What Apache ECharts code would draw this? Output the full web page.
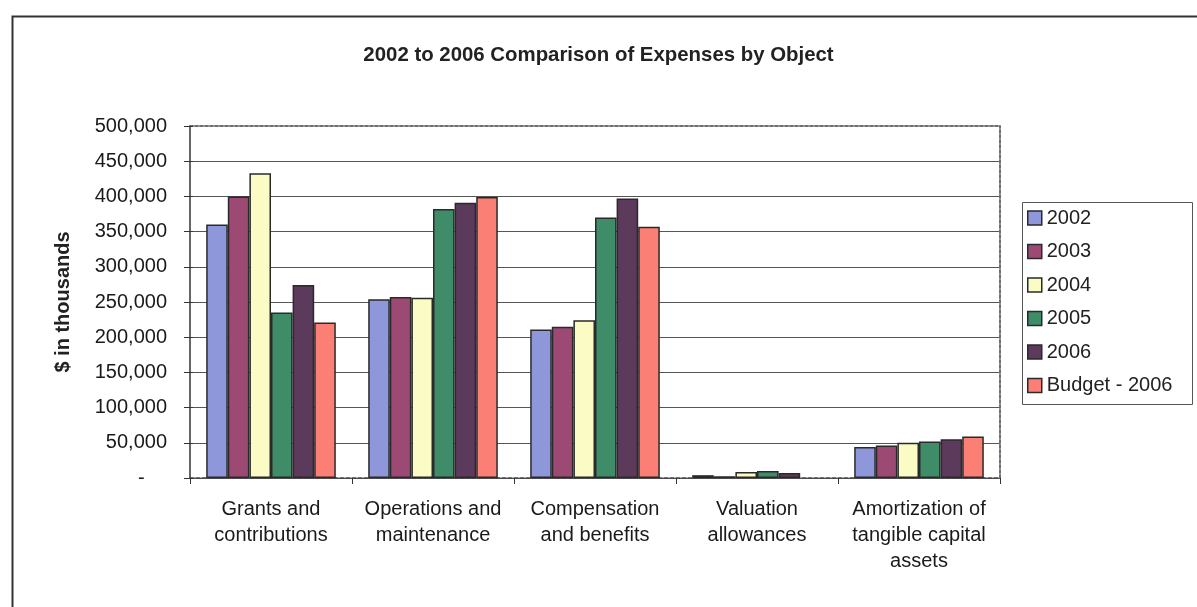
<!DOCTYPE html>
<html>
<head>
<meta charset="utf-8">
<title>2002 to 2006 Comparison of Expenses by Object</title>
<script src="https://cdn.jsdelivr.net/npm/echarts@6/dist/echarts.min.js"></script>
<style>
  html, body { margin: 0; padding: 0; background: #ffffff; }
  #chart { width: 1197px; height: 607px; }
</style>
</head>
<body>
<div id="chart"></div>
<script>
// Expense categories (two/three-line labels as printed under the axis)
const categories = [
  'Grants and\ncontributions',
  'Operations and\nmaintenance',
  'Compensation\nand benefits',
  'Valuation\nallowances',
  'Amortization of\ntangible capital\nassets'
];

// $ in thousands, one array per year / budget (null = no bar)
const y2002 = [360000, 254000, 211000, 4000, 44000];
const y2003 = [400000, 257000, 215000, 2500, 46000];
const y2004 = [433000, 256000, 224000, 8500, 50000];
const y2005 = [235000, 382000, 370000, 10000, 52000];
const y2006 = [274000, 391000, 397000, 7000, 55000];
const budget2006 = [221000, 399000, 357000, null, 59000];

const seriesNames = ['2002', '2003', '2004', '2005', '2006', 'Budget - 2006'];
const seriesData = [y2002, y2003, y2004, y2005, y2006, budget2006];
const seriesColors = ['#8f97db', '#9c4a74', '#fbfbc6', '#3f8d68', '#5b3a5b', '#fb7f74'];

const FONT = 'Arial, "Liberation Sans", sans-serif';

function fmtThousands(v) {
  if (v === 0) return '-    ';
  return String(v).replace(/\B(?=(\d{3})+(?!\d))/g, ',');
}

const chart = echarts.init(document.getElementById('chart'), null, { renderer: 'canvas' });

chart.setOption({
  animation: false,
  backgroundColor: '#ffffff',
  textStyle: { fontFamily: FONT },
  title: {
    text: '2002 to 2006 Comparison of Expenses by Object',
    left: 'center',
    top: 45,
    padding: 0,
    textStyle: { fontFamily: FONT, fontSize: 20.4, fontWeight: 'bold', color: '#222' }
  },
  legend: {
    orient: 'vertical',
    left: 1027,
    top: 208,
    padding: 0,
    itemWidth: 14,
    itemHeight: 14,
    itemGap: 13.5,
    icon: 'rect',
    data: seriesNames,
    itemStyle: { borderColor: '#2a2a2a', borderWidth: 1.5 },
    textStyle: { fontFamily: FONT, fontSize: 20, color: '#222', lineHeight: 20, padding: [0, 0, 0, 0] }
  },
  grid: { left: 190, right: 197, top: 126, bottom: 129, containLabel: false },
  xAxis: [
    {
      type: 'category',
      data: categories,
      axisLine: { show: true, onZero: false, lineStyle: { color: '#444', width: 1.5, type: [4, 2] } },
      axisTick: { show: true, length: 6, lineStyle: { color: '#333' } },
      axisLabel: {
        interval: 0,
        margin: 18,
        fontFamily: FONT,
        fontSize: 20,
        lineHeight: 26,
        color: '#1a1a1a',
        align: 'center'
      },
      splitLine: { show: false }
    },
    {
      // dashed top edge of the plot area
      type: 'category',
      position: 'top',
      data: categories,
      axisLine: { show: true, onZero: false, lineStyle: { color: '#6f6f6f', width: 2, type: [3, 2] } },
      axisTick: { show: false },
      axisLabel: { show: false }
    }
  ],
  yAxis: [
    {
      type: 'value',
      min: 0,
      max: 500000,
      interval: 50000,
      name: '$ in thousands',
      nameLocation: 'middle',
      nameRotate: 90,
      nameGap: 117,
      nameTextStyle: { fontFamily: FONT, fontSize: 20, fontWeight: 'bold', color: '#222' },
      axisLine: { show: true, onZero: false, lineStyle: { color: '#333', width: 1.5 } },
      axisTick: { show: true, length: 6, lineStyle: { color: '#333' } },
      axisLabel: {
        margin: 23,
        fontFamily: FONT,
        fontSize: 20,
        color: '#1a1a1a',
        formatter: fmtThousands
      },
      splitLine: { show: true, showMaxLine: false, lineStyle: { color: '#555', width: 1 } }
    },
    {
      // dashed right edge of the plot area
      type: 'value',
      position: 'right',
      min: 0,
      max: 500000,
      interval: 50000,
      axisLine: { show: true, onZero: false, lineStyle: { color: '#6f6f6f', width: 2, type: [3, 2] } },
      axisTick: { show: false },
      axisLabel: { show: false },
      splitLine: { show: false }
    },
    {
      // inner half of the crossing tick marks on the value axis
      type: 'value',
      position: 'left',
      min: 0,
      max: 500000,
      interval: 50000,
      axisLine: { show: false },
      axisTick: { show: true, inside: true, length: 3, lineStyle: { color: '#333' } },
      axisLabel: { show: false },
      splitLine: { show: false }
    }
  ],
  series: seriesNames.map((name, i) => ({
    name: name,
    type: 'bar',
    xAxisIndex: 0,
    yAxisIndex: 0,
    data: seriesData[i],
    barGap: '0%',
    barCategoryGap: '20%',
    itemStyle: { color: seriesColors[i], borderColor: '#2a2a2a', borderWidth: 1.5 }
  })),
  graphic: [
    {
      // outer chart frame
      type: 'rect',
      left: 10,
      top: 14,
      shape: { width: 1260, height: 700 },
      style: { fill: 'none', stroke: '#333', lineWidth: 2 },
      silent: true,
      z: -1
    },
    {
      // legend box
      type: 'rect',
      left: 1020,
      top: 200,
      shape: { width: 170, height: 202 },
      style: { fill: 'none', stroke: '#555', lineWidth: 1 },
      silent: true
    }
  ]
});
</script>
</body>
</html>
